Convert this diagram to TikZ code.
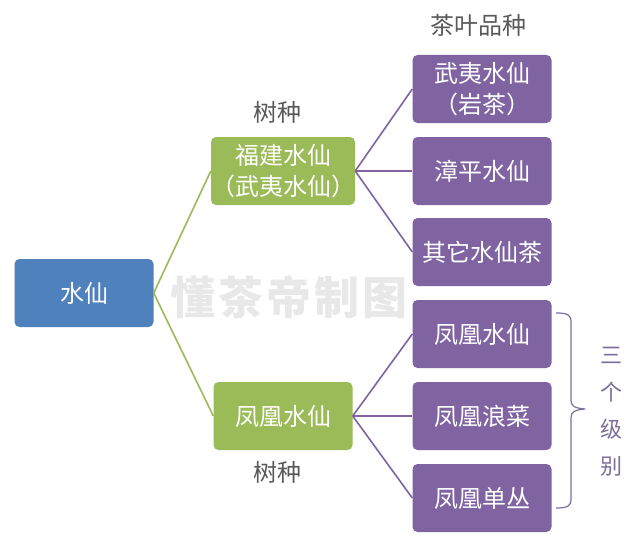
\documentclass[tikz,border=0pt]{standalone}
\usepackage{fontspec}
\setmainfont{Noto Sans CJK SC}
\definecolor{bluebox}{HTML}{4F81BD}
\definecolor{greenbox}{HTML}{9BBB59}
\definecolor{purplebox}{HTML}{8064A2}
\definecolor{labelgray}{HTML}{595959}
\definecolor{bracecol}{HTML}{7E6E9C}
\begin{document}
\begin{tikzpicture}[x=1pt,y=-1pt,
  box/.style={rounded corners=5pt, minimum width=139pt, minimum height=68pt, text=white, font=\fontsize{24}{31}\selectfont, align=center, inner sep=0pt},
  bluen/.style={box, fill=bluebox},
  greenn/.style={box, fill=greenbox},
  purplen/.style={box, fill=purplebox},
  gline/.style={greenbox, line width=1.6pt},
  pline/.style={purplebox, line width=1.6pt},
  lbl/.style={text=labelgray, font=\fontsize{24}{28}\selectfont}]
\useasboundingbox (0,0) rectangle (640,551);
\fill[white] (0,0) rectangle (640,551);
% watermark
\node[text=black!9, font=\fontsize{45}{50}\bfseries\selectfont] (wm) at (289,297) {懂\hspace{3pt}茶\hspace{3pt}帝\hspace{3pt}制\hspace{3pt}图};
% boxes
\node[bluen] (root) at (84,293) {水仙};
\node[greenn] (fj) at (283,171) {福建水仙\\（武夷水仙）};
\node[greenn] (fh) at (283,416) {凤凰水仙};
\node[purplen] (p1) at (482,89) {武夷水仙\\（岩茶）};
\node[purplen] (p2) at (482,171) {漳平水仙};
\node[purplen] (p3) at (482,252) {其它水仙茶};
\node[purplen] (p4) at (482,334) {凤凰水仙};
\node[purplen] (p5) at (482,416) {凤凰浪菜};
\node[purplen] (p6) at (482,498) {凤凰单丛};
% connectors
\draw[gline] (root.east) -- (fj.west);
\draw[gline] (root.east) -- (fh.west);
\foreach \p in {p1,p2,p3} \draw[pline] (fj.east) -- (\p.west);
\foreach \p in {p4,p5,p6} \draw[pline] (fh.east) -- (\p.west);
% labels
\node[lbl] (t1) at (277,112) {树种};
\node[lbl] (t2) at (277,472) {树种};
\node[lbl] (t3) at (478,25) {茶叶品种};
% bracket
\coordinate (bt) at (556,313);
\coordinate (bb) at (556,508);
\draw[bracecol, line width=1.2pt, line join=round]
  (bt) .. controls (568,313) and (571,315) .. (571,322)
  -- (571,400) .. controls (571,406) and (574,408) .. (585,409)
  .. controls (574,410) and (571,412) .. (571,418)
  -- (571,499) .. controls (571,506) and (568,508) .. (bb);
\node[text=bracecol, font=\fontsize{22}{37}\selectfont, align=center] (lv) at (611,412) {三\\个\\级\\别};
\end{tikzpicture}
\end{document}
